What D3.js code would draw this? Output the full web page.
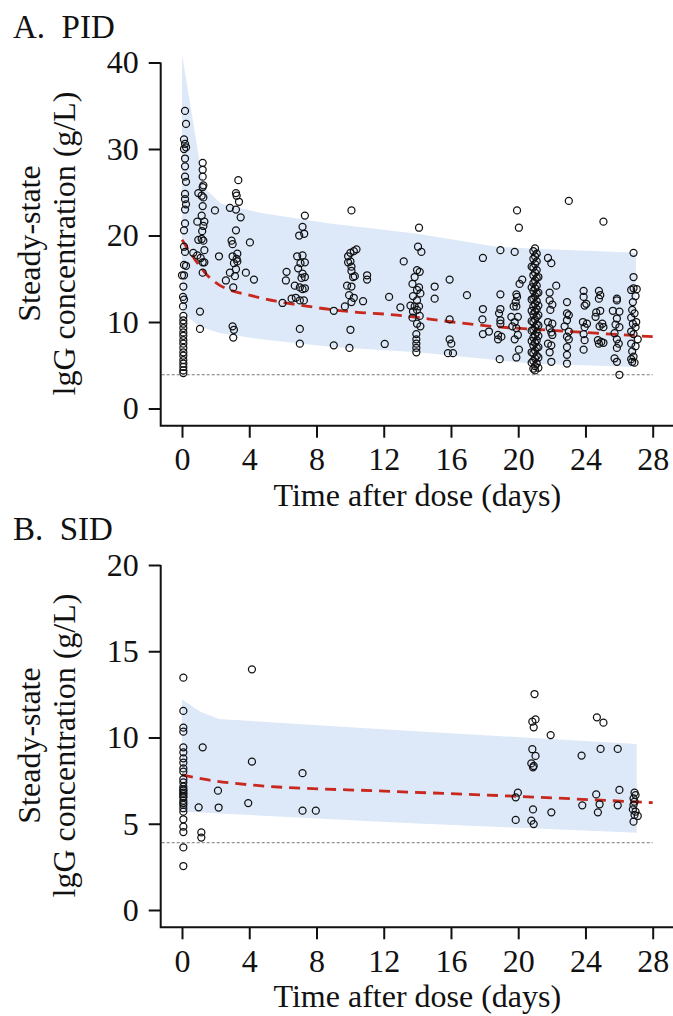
<!DOCTYPE html>
<html>
<head>
<meta charset="utf-8">
<script src="https://cdn.jsdelivr.net/npm/d3@7"></script>
<style>
  body { margin: 0; background: #fff; }
  svg { display: block; font-family: "Liberation Serif", "Times New Roman", serif; }
</style>
</head>
<body>
<script>
// ---- data ----
const dayTicks = [0, 4, 8, 12, 16, 20, 24, 28];
const pidTicks = [0, 10, 20, 30, 40];
const sidTicks = [0, 5, 10, 15, 20];
const lloq = 3.9;

// PID: 90% prediction band and median prediction
const pidBandDay = [0, 0.3, 1.0, 1.3, 2.3, 4.7, 8.8, 14, 18.7, 20.7, 27];
const pidBandHi  = [40.9, 37.4, 29.1, 25.6, 23.7, 22.6, 21.4, 20.2, 18.7, 18.5, 18.0];
const pidBandLo  = [11.8, 10.6, 9.6, 9.3, 8.7, 8.0, 7.15, 6.5, 5.6, 5.2, 4.8];
const pidMeanDay = [0, 0.5, 1, 1.5, 2.2, 3, 4, 5.6, 7.2, 8.8, 10, 12.8, 16.1, 18.7, 21.7, 24.7, 28];
const pidMean    = [19.5, 18.0, 16.6, 15.4, 14.3, 13.6, 13.1, 12.4, 11.9, 11.45, 11.2, 10.8, 10.0, 9.45, 9.07, 8.7, 8.3];

// PID observations [day, IgG g/L]
const pidObs = [
  [0.18,34.4],[0.24,32.9],[0.12,31.1],[0.18,30.6],[0.24,30.2],[0.12,30.0],[0.18,28.9],[0.18,28.0],
  [0.18,26.8],[0.24,26.2],[0.18,24.8],[0.18,24.2],[0.24,23.6],[0.18,23.0],[0.18,21.4],[0.12,20.6],
  [0.12,18.7],[0.18,18.1],[0.12,16.6],[0.24,16.5],[0.0,15.4],[0.12,15.4],[0.08,14.1],[0.06,12.9],
  [0.12,12.6],[0.06,11.8],[0.08,10.7],[0.08,10.2],[0.08,9.8],[0.08,9.3],[0.08,8.8],[0.08,8.4],
  [0.08,7.9],[0.08,7.5],[0.08,7.0],[0.08,6.5],[0.08,6.1],[0.08,5.6],[0.08,5.2],[0.08,4.8],[0.08,4.4],[0.08,4.1],
  [1.23,28.4],[1.23,27.6],[1.23,26.8],[1.27,25.8],[1.23,25.6],[0.97,24.9],[1.17,24.6],[1.27,24.4],
  [1.23,23.4],[1.17,22.3],[0.91,21.6],[1.33,21.6],[1.27,21.1],[1.2,20.5],[0.97,19.5],[1.17,19.6],
  [1.27,19.4],[1.33,18.3],[0.67,18.0],[0.91,17.7],[1.11,17.4],[1.23,16.9],[1.33,16.9],[1.23,15.7],
  [1.07,11.2],[1.07,9.2],
  [3.35,26.4],[3.21,24.9],[3.25,24.6],[3.39,23.9],[2.85,23.2],[3.21,23.0],[3.49,22.1],[3.21,20.6],
  [2.95,19.4],[3.01,19.0],[3.29,17.9],[3.01,17.6],[3.25,17.3],[3.09,16.8],[3.29,17.0],[3.21,16.1],
  [2.85,15.7],[3.15,15.3],[3.05,14.0],[2.61,14.8],[3.01,9.5],[3.09,9.1],[3.05,8.2],[1.96,22.9],
  [2.2,17.6],[3.8,15.7],[4.04,19.2],[4.28,14.9],
  [7.31,22.3],[7.17,21.0],[6.97,20.0],[7.27,20.2],[6.85,17.6],[7.17,17.7],[7.31,16.9],[7.05,16.8],
  [6.91,16.2],[7.17,15.6],[7.31,15.2],[7.11,15.1],[6.71,14.2],[7.01,14.0],[7.31,13.9],[7.17,13.8],
  [6.52,12.7],[6.77,12.8],[7.25,12.5],[7.01,12.5],[6.22,15.8],[6.18,14.8],[5.98,12.2],[7.01,9.2],[7.01,7.5],
  [9.03,11.3],[9.03,7.3],
  [10.08,22.9],[10.38,18.4],[10.22,18.2],[10.02,18.0],[9.88,17.6],[10.02,17.0],[9.88,16.9],[10.08,16.4],
  [10.08,15.9],[10.28,15.3],[10.18,15.2],[9.82,14.2],[10.08,14.1],[9.94,13.1],[10.22,12.8],[10.08,12.3],
  [9.69,11.8],[10.02,9.1],[9.96,7.0],[10.77,12.4],[11.01,15.4],[11.01,14.9],
  [12.06,7.46],[12.32,12.9],[12.99,11.7],[13.19,17.0],
  [14.1,20.9],[14.04,18.7],[14.24,18.1],[13.98,16.0],[14.14,15.8],[13.84,15.2],[13.71,14.4],[14.1,14.0],
  [13.98,13.7],[14.18,13.3],[13.74,13.0],[13.98,12.5],[13.59,11.9],[13.84,11.8],[14.1,11.8],[13.98,11.4],
  [13.74,11.2],[14.14,10.7],[13.71,10.5],[13.98,9.8],[14.18,9.5],[13.94,8.6],[13.94,8.0],[13.94,7.5],
  [13.94,7.0],[13.94,6.5],
  [15.03,14.1],[15.03,12.7],[15.92,14.9],[15.92,10.3],[15.92,8.0],[16.02,7.5],[15.82,6.4],[16.12,6.4],
  [16.95,13.1],[17.9,17.4],[17.9,11.5],[17.87,10.3],[17.9,8.6],[18.26,8.9],
  [18.94,18.3],[18.94,13.2],[18.94,11.5],[18.86,11.0],[18.94,10.2],[18.94,9.8],[18.8,8.5],[19.0,8.3],
  [18.8,8.0],[18.9,5.7],
  [19.93,22.9],[20.04,20.9],[19.79,18.1],[20.24,14.9],[20.08,14.4],[19.89,13.2],[19.93,12.9],[19.85,12.3],
  [19.89,11.8],[19.73,11.8],[19.59,10.6],[19.98,10.6],[19.79,10.0],[19.65,9.5],[19.89,9.3],[19.98,8.5],
  [19.79,8.0],[20.04,6.8],[19.89,5.9],
  [21.0,18.5],[20.9,18.2],[21.1,17.9],[21.0,17.6],[20.9,17.3],[21.1,17.0],[21.0,16.7],[20.9,16.3],
  [21.1,16.0],[21.0,15.7],[20.9,15.4],[21.1,15.1],[21.0,14.8],[20.9,14.5],[21.1,14.2],[21.0,13.9],
  [20.9,13.6],[21.1,13.3],[21.0,13.0],[20.9,12.7],[21.1,12.4],[21.0,12.1],[20.9,11.8],[21.1,11.5],
  [21.0,11.2],[20.9,10.9],[21.1,10.6],[21.0,10.3],[20.9,10.0],[21.1,9.7],[21.0,9.4],[20.9,9.1],
  [21.1,8.8],[21.0,8.5],[20.9,8.2],[21.1,7.9],[21.0,7.6],[20.9,7.3],[21.1,7.0],[21.0,6.7],
  [20.9,6.4],[21.1,6.1],[21.0,5.8],[20.9,5.5],[21.1,5.2],[21.0,4.9],[20.9,4.6],[21.0,4.4],
  [20.8,16.4],[21.2,15.2],[20.8,14.0],[21.2,13.4],[20.8,12.6],[21.2,11.9],[20.8,11.3],[21.2,10.8],
  [20.8,10.1],[21.2,9.6],[20.8,9.0],[21.2,8.4],[20.8,7.8],[21.2,7.1],[20.8,6.5],[21.2,5.9],[20.8,5.3],[21.2,4.7],
  [21.77,17.4],[21.97,16.8],[22.26,14.2],[21.87,13.4],[21.87,12.5],[22.03,12.0],[21.91,11.4],[21.77,10.0],
  [22.03,9.8],[21.87,9.3],[21.97,8.8],[22.03,8.5],[21.77,7.5],[21.97,7.3],[21.87,6.5],[21.97,5.4],
  [23.01,24.0],[22.9,12.3],[22.9,11.0],[23.01,10.8],[22.9,10.2],[22.76,9.5],[23.01,8.9],[22.9,8.3],
  [23.01,8.0],[22.9,7.1],[22.9,6.2],[22.9,5.2],
  [23.89,13.6],[23.89,12.9],[24.05,12.1],[23.95,11.9],[23.85,10.0],[24.09,9.8],[23.95,9.4],[23.89,8.6],
  [23.95,7.9],[23.89,6.8],
  [25.07,21.6],[24.8,13.6],[24.88,13.1],[24.8,12.7],[24.64,11.1],[24.88,11.3],[24.6,10.6],[25.0,9.8],
  [24.84,9.5],[25.07,9.4],[24.74,7.9],[24.94,7.7],[25.07,7.6],[24.8,7.5],
  [25.87,12.7],[25.87,12.5],[25.63,11.3],[26.02,11.2],[25.87,10.4],[25.79,9.7],[26.02,9.4],[25.73,8.7],
  [25.87,8.0],[25.98,7.5],[25.87,7.0],[25.73,5.8],[25.87,5.4],[26.02,3.9],
  [26.86,18.0],[26.86,15.2],[26.72,13.7],[26.86,13.9],[27.05,13.8],[26.98,13.0],[26.82,12.3],[26.78,11.4],
  [26.92,11.0],[26.72,10.5],[27.02,10.0],[26.82,9.8],[26.98,9.4],[26.72,8.9],[26.86,8.6],[27.11,8.0],
  [26.72,7.5],[26.98,7.2],[26.78,6.6],[26.86,6.0],[26.72,5.7],[26.92,5.3],[26.78,5.4]
];

// SID: prediction band, median, observations
const sidBandDay = [0, 1.1, 2.2, 12.4, 27.05];
const sidBandHi  = [12.2, 11.5, 11.07, 10.45, 9.62];
const sidBandLo  = [5.7, 5.65, 5.6, 5.08, 4.48];
const sidMeanDay = [0, 1.3, 4.1, 12.4, 19.7, 28];
const sidMean    = [7.83, 7.58, 7.25, 6.88, 6.6, 6.22];

const sidObs = [
  [0.08,13.47],[0.08,11.54],[0.08,10.57],[0.08,10.34],[0.08,9.43],[0.08,9.14],[0.08,8.79],[0.08,8.54],
  [0.08,8.21],[0.08,8.02],[0.08,7.58],[0.08,7.4],[0.08,7.15],[0.08,7.0],[0.08,6.92],[0.08,6.8],[0.08,6.72],
  [0.08,6.6],[0.08,6.53],[0.08,6.34],[0.08,6.2],[0.08,6.09],[0.08,5.9],[0.08,5.70],[0.08,5.26],
  [0.08,4.83],[0.08,4.52],[0.08,3.63],[0.08,2.55],
  [1.23,9.43],[0.99,5.95],[1.15,4.5],[1.15,4.2],[2.14,6.92],[2.18,5.94],[4.16,13.95],[4.16,8.6],
  [3.94,6.2],[7.17,7.93],[7.17,5.76],[7.96,5.76],
  [19.85,6.53],[19.98,6.8],[19.85,5.22],
  [20.97,12.52],[21.03,11.05],[20.84,10.92],[20.92,10.59],[20.84,9.32],[21.03,8.93],[20.78,8.5],
  [20.92,8.35],[20.88,8.27],[20.88,5.83],[20.78,5.18],[20.92,4.98],
  [21.93,10.14],[21.97,5.66],[23.77,8.95],[23.81,6.07],
  [24.68,11.17],[25.07,10.86],[24.9,9.34],[24.64,6.7],[24.84,6.13],[24.74,5.66],
  [25.92,9.34],[26.02,6.96],[25.92,6.07],
  [26.92,6.8],[26.98,6.66],[26.86,6.47],[26.92,6.28],[26.86,6.09],[26.82,5.83],[26.98,5.70],
  [27.11,5.45],[26.92,5.51],[26.86,5.12]
];

// ---- drawing ----
const W = 673, H = 1016;
const svg = d3.select('body').append('svg')
  .attr('width', W)
  .attr('height', H);

const axisLeftX = 160.7;

function drawPanel(p) {
  const g = svg.append('g');
  const x = d3.scaleLinear().domain([0, 28]).range([182, 652.7]);
  const y = d3.scaleLinear().domain([0, p.ymax]).range([p.y0, p.ytop]);

  const band = p.bandDay.map((d, i) => ({ d: d, hi: p.bandHi[i], lo: p.bandLo[i] }));
  g.append('path')
    .datum(band)
    .attr('fill', '#dde9f8')
    .attr('d', d3.area().x(d => x(d.d)).y0(d => y(d.lo)).y1(d => y(d.hi)));

  // lower limit of quantification
  g.append('line')
    .attr('x1', axisLeftX + 1).attr('x2', x(28))
    .attr('y1', y(lloq)).attr('y2', y(lloq))
    .attr('stroke', '#777').attr('stroke-width', 1)
    .attr('stroke-dasharray', '3,2');

  const mean = p.meanDay.map((d, i) => [d, p.mean[i]]);
  g.append('path')
    .datum(mean)
    .attr('fill', 'none')
    .attr('stroke', '#c8281e')
    .attr('stroke-width', 2.8)
    .attr('stroke-dasharray', '11,7')
    .attr('d', d3.line().x(d => x(d[0])).y(d => y(d[1])).curve(d3.curveMonotoneX));

  g.selectAll('.obs')
    .data(p.obs)
    .enter()
    .append('circle')
    .attr('class', 'obs')
    .attr('cx', d => x(d[0]))
    .attr('cy', d => y(d[1]))
    .attr('r', 3.5)
    .attr('fill', 'none')
    .attr('stroke', '#111')
    .attr('stroke-width', 1.25);

  // axes
  const yAxis = g.append('g')
    .attr('transform', `translate(${axisLeftX},0)`)
    .call(d3.axisLeft(y).tickValues(p.yTicks).tickSize(12).tickPadding(10));
  const xAxis = g.append('g')
    .attr('transform', `translate(0,${p.axisY})`)
    .call(d3.axisBottom(x).tickValues(dayTicks).tickSize(12).tickPadding(10));
  [yAxis, xAxis].forEach(a => {
    a.select('.domain').remove();
    a.selectAll('line').attr('stroke', '#111').attr('stroke-width', 2);
    a.selectAll('text').attr('font-size', 32).attr('fill', '#111')
      .attr('font-family', '"Liberation Serif", serif');
  });
  g.append('path')
    .attr('d', `M${axisLeftX},${p.ytop}V${p.axisY}H${W}`)
    .attr('fill', 'none').attr('stroke', '#111').attr('stroke-width', 2);

  // labels
  g.append('text')
    .attr('x', 13).attr('y', p.titleY)
    .attr('font-size', 33).attr('fill', '#111')
    .attr('xml:space', 'preserve')
    .text(p.title);

  g.append('text')
    .attr('x', (x(0) + x(28)) / 2).attr('y', p.axisY + 80)
    .attr('text-anchor', 'middle')
    .attr('font-size', 32).attr('fill', '#111')
    .text('Time after dose (days)');

  const cy = (p.y0 + p.ytop) / 2 + 8;
  [['Steady-state', 40], ['lgG concentration (g/L)', 75]].forEach(([t, bx]) => {
    g.append('text')
      .attr('transform', `translate(${bx},${cy}) rotate(-90)`)
      .attr('text-anchor', 'middle')
      .attr('font-size', 32).attr('fill', '#111')
      .text(t);
  });
}

drawPanel({
  title: 'A.  PID', titleY: 38,
  ymax: 40, y0: 408.5, ytop: 62.5, axisY: 425.7, yTicks: pidTicks,
  bandDay: pidBandDay, bandHi: pidBandHi, bandLo: pidBandLo,
  meanDay: pidMeanDay, mean: pidMean, obs: pidObs
});

drawPanel({
  title: 'B.  SID', titleY: 540,
  ymax: 20, y0: 910, ytop: 565, axisY: 927.3, yTicks: sidTicks,
  bandDay: sidBandDay, bandHi: sidBandHi, bandLo: sidBandLo,
  meanDay: sidMeanDay, mean: sidMean, obs: sidObs
});
</script>
</body>
</html>
